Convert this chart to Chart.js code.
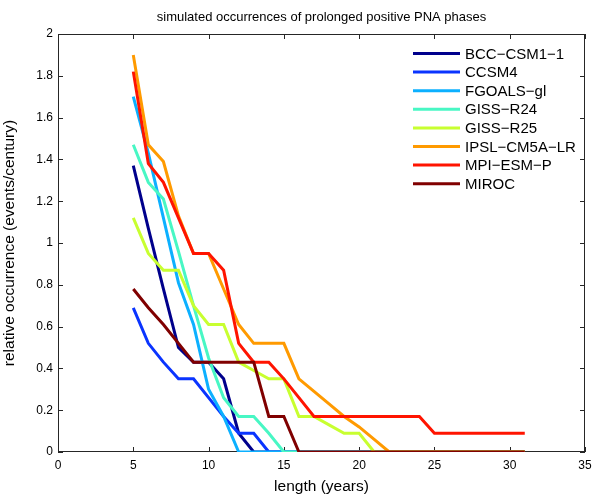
<!DOCTYPE html>
<html>
<head>
<meta charset="utf-8">
<title>simulated occurrences of prolonged positive PNA phases</title>
<script src="https://cdn.jsdelivr.net/npm/chart.js@4.4.0/dist/chart.umd.min.js"></script>
<style>
  html, body { margin: 0; padding: 0; background: #fff; }
  canvas { display: block; }
</style>
</head>
<body>
<canvas id="pnaChart" width="598" height="498"></canvas>
<script>
// event length in years
const lengths = [5, 6, 7, 8, 9, 10, 11, 12, 13, 14, 15, 16, 17, 18, 19, 20,
                 21, 22, 23, 24, 25, 26, 27, 28, 29, 30, 31];

// relative occurrence (events/century), one value per length
const bcc     = [1.37, 1.07, 0.78, 0.50, 0.43, 0.43, 0.35, 0.09, 0, 0, 0, 0, 0, 0, 0, 0,
                 0, 0, 0, 0, 0, 0, 0, 0, 0, 0, 0];
const ccsm4   = [0.69, 0.52, 0.43, 0.35, 0.35, 0.26, 0.17, 0.09, 0.09, 0, 0, 0, 0, 0, 0, 0,
                 0, 0, 0, 0, 0, 0, 0, 0, 0, 0, 0];
const fgoals  = [1.70, 1.43, 1.12, 0.81, 0.61, 0.30, 0.17, 0, 0, 0, 0, 0, 0, 0, 0, 0,
                 0, 0, 0, 0, 0, 0, 0, 0, 0, 0, 0];
const gissR24 = [1.47, 1.29, 1.21, 0.96, 0.70, 0.45, 0.26, 0.17, 0.17, 0.09, 0, 0, 0, 0, 0, 0,
                 0, 0, 0, 0, 0, 0, 0, 0, 0, 0, 0];
const gissR25 = [1.12, 0.95, 0.87, 0.87, 0.70, 0.61, 0.61, 0.43, 0.39, 0.35, 0.35, 0.17, 0.17, 0.13, 0.09, 0.09,
                 0, 0, 0, 0, 0, 0, 0, 0, 0, 0, 0];
const ipsl    = [1.90, 1.47, 1.39, 1.13, 0.95, 0.95, 0.78, 0.61, 0.52, 0.52, 0.52, 0.35, 0.29, 0.23, 0.17, 0.12,
                 0.06, 0, 0, 0, 0, 0, 0, 0, 0, 0, 0];
const mpi     = [1.82, 1.38, 1.29, 1.12, 0.95, 0.95, 0.87, 0.52, 0.43, 0.43, 0.35, 0.26, 0.17, 0.17, 0.17, 0.17,
                 0.17, 0.17, 0.17, 0.17, 0.09, 0.09, 0.09, 0.09, 0.09, 0.09, 0.09];
const miroc   = [0.78, 0.69, 0.61, 0.52, 0.43, 0.43, 0.43, 0.43, 0.43, 0.17, 0.17, 0, 0, 0, 0, 0,
                 0, 0, 0, 0, 0, 0, 0, 0, 0, 0, 0];

const modelNames = ['BCC\u2212CSM1\u22121', 'CCSM4', 'FGOALS\u2212gl', 'GISS\u2212R24',
                    'GISS\u2212R25', 'IPSL\u2212CM5A\u2212LR', 'MPI\u2212ESM\u2212P', 'MIROC'];
const modelSeries = [bcc, ccsm4, fgoals, gissR24, gissR25, ipsl, mpi, miroc];
const modelColors = ['#00008c', '#0a34ff', '#0cb0ff', '#48f7c4', '#c8ff30', '#ff9a00', '#ff1400', '#800000'];

const xTickValues = [0, 5, 10, 15, 20, 25, 30, 35];
const yTickValues = [0, 0.2, 0.4, 0.6, 0.8, 1, 1.2, 1.4, 1.6, 1.8, 2];
const yTickLabels = ['0', '0.2', '0.4', '0.6', '0.8', '1', '1.2', '1.4', '1.6', '1.8', '2'];

const FONT = "'Liberation Sans', Arial, Helvetica, sans-serif";

// matlab style box, inward ticks, title and legend
const matlabAxes = {
    id: 'matlabAxes',
    beforeDatasetsDraw(chart) {
        const { ctx, chartArea: a, scales: { x, y } } = chart;
        ctx.save();
        ctx.strokeStyle = '#262626';
        ctx.lineWidth = 1;
        ctx.strokeRect(a.left + 0.5, a.top + 0.5, a.right - a.left - 1, a.bottom - a.top - 1);
        ctx.beginPath();
        xTickValues.forEach(v => {
            const px = Math.round(x.getPixelForValue(v)) + 0.5;
            ctx.moveTo(px, a.bottom);
            ctx.lineTo(px, a.bottom - 5);
            ctx.moveTo(px, a.top);
            ctx.lineTo(px, a.top + 5);
        });
        yTickValues.forEach(v => {
            const py = Math.round(y.getPixelForValue(v)) + 0.5;
            ctx.moveTo(a.left, py);
            ctx.lineTo(a.left + 5, py);
            ctx.moveTo(a.right, py);
            ctx.lineTo(a.right - 5, py);
        });
        ctx.stroke();
        ctx.restore();
    },
    afterDraw(chart) {
        const { ctx, chartArea: a } = chart;
        ctx.save();
        ctx.fillStyle = '#000';
        ctx.font = '13px ' + FONT;
        ctx.textAlign = 'center';
        ctx.textBaseline = 'middle';
        ctx.fillText('simulated occurrences of prolonged positive PNA phases', (a.left + a.right) / 2, 17);

        // legend
        ctx.font = '15px ' + FONT;
        ctx.textAlign = 'left';
        modelNames.forEach((name, i) => {
            const ly = 53.5 + i * 18.6;
            ctx.strokeStyle = modelColors[i];
            ctx.lineWidth = 3;
            ctx.beginPath();
            ctx.moveTo(413, ly);
            ctx.lineTo(460, ly);
            ctx.stroke();
            ctx.fillStyle = '#000';
            ctx.fillText(name, 465, ly + 1);
        });
        ctx.restore();
    }
};

new Chart(document.getElementById('pnaChart'), {
    type: 'line',
    data: {
        datasets: modelSeries.map((series, i) => ({
            label: modelNames[i],
            data: series.map((v, j) => ({ x: lengths[j], y: v })),
            borderColor: modelColors[i],
            backgroundColor: modelColors[i],
            borderWidth: 3,
            pointRadius: 0,
            tension: 0,
            fill: false,
            order: -i
        }))
    },
    options: {
        responsive: false,
        animation: false,
        events: [],
        layout: { padding: { top: 34, right: 13, left: 0, bottom: 0 } },
        plugins: {
            legend: { display: false },
            tooltip: { enabled: false },
            title: { display: false }
        },
        scales: {
            x: {
                type: 'linear',
                min: 0,
                max: 35,
                afterBuildTicks: scale => { scale.ticks = xTickValues.map(v => ({ value: v })); },
                afterFit: scale => { scale.height = 46; },
                grid: { display: false, drawTicks: false },
                border: { display: false },
                ticks: { color: '#000', padding: 6, maxRotation: 0, font: { family: FONT, size: 12 } },
                title: {
                    display: true,
                    text: 'length (years)',
                    color: '#000',
                    padding: { top: 0, bottom: 2 },
                    font: { family: FONT, size: 15.5 }
                }
            },
            y: {
                min: 0,
                max: 2,
                afterBuildTicks: scale => { scale.ticks = yTickValues.map(v => ({ value: v })); },
                afterFit: scale => { scale.width = 58; },
                grid: { display: false, drawTicks: false },
                border: { display: false },
                ticks: {
                    color: '#000',
                    padding: 5,
                    font: { family: FONT, size: 12 },
                    callback: (v, i) => yTickLabels[i]
                },
                title: {
                    display: true,
                    text: 'relative occurrence (events/century)',
                    color: '#000',
                    padding: { top: 0, bottom: 0 },
                    font: { family: FONT, size: 15.5 }
                }
            }
        }
    },
    plugins: [matlabAxes]
});
</script>
</body>
</html>
